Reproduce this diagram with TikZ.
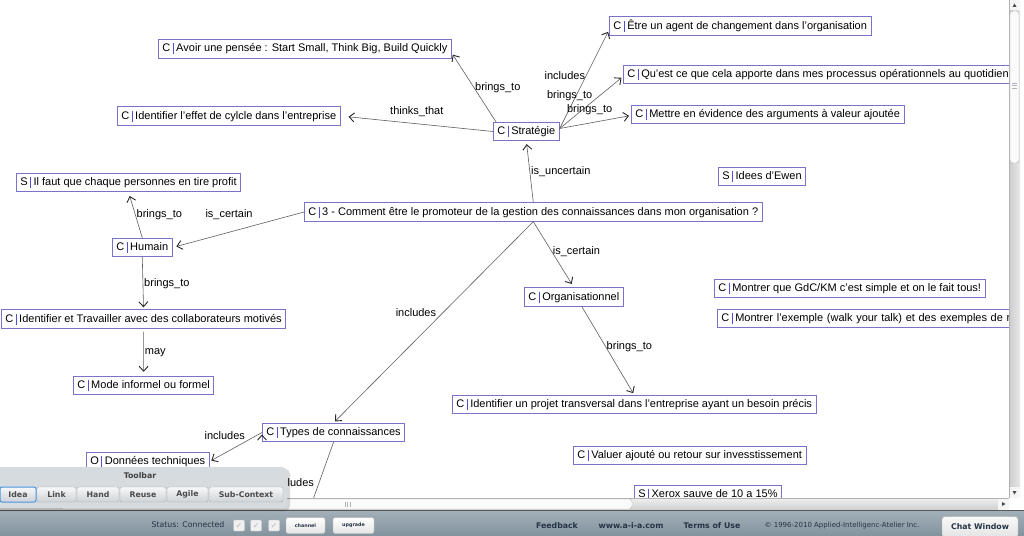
\documentclass[tikz,border=0pt]{standalone}
\usepackage{fontspec}
\setmainfont{Liberation Sans}
\newfontfamily\uifont{DejaVu Sans}
\usetikzlibrary{arrows.meta, positioning}

\definecolor{boxline}{RGB}{120,114,200}
\definecolor{sepline}{RGB}{80,80,215}
\definecolor{linkgray}{RGB}{95,95,95}
\definecolor{panelgray}{RGB}{214,219,224}
\definecolor{barlight}{RGB}{163,176,185}
\definecolor{bardark}{RGB}{132,148,158}
\definecolor{bartext}{RGB}{36,52,70}
\definecolor{ideablue}{RGB}{70,150,225}

\newcommand{\kind}[1]{#1\hspace{2.5pt}{\color{sepline}\vrule width 0.9pt height 8.5pt depth 2.5pt}\hspace{2.5pt}}
\newcommand{\diagfont}{\fontsize{11}{13}\selectfont}
\newcommand{\uibold}{\uifont\bfseries\fontsize{7.8}{9}\selectfont}
\newcommand{\uiplain}{\uifont\fontsize{7.8}{9}\selectfont}

\tikzset{
  concept/.style={draw=boxline, fill=white, line width=0.8pt, anchor=west,
    inner xsep=4pt, inner ysep=0pt, minimum height=18.5pt, font=\diagfont},
  link/.style={draw=linkgray, line width=0.6pt,
    -{Straight Barb[length=5pt,width=9pt,line width=0.9pt,color=black!85]}, shorten >=2pt},
  rel/.style={font=\diagfont, inner sep=1pt},
  tbbutton/.style={draw=gray!65, top color=white!80!panelgray,
    bottom color=panelgray!90!gray, rounded corners=2pt, minimum height=15pt,
    inner sep=0pt, font=\uibold, text=black!70},
  smallbtn/.style={draw=gray!60, top color=white, bottom color=gray!20,
    rounded corners=2pt, minimum height=16pt, inner sep=0pt,
    font=\uifont\bfseries\fontsize{4.8}{5}\selectfont, text=bartext},
  chk/.style={draw=gray!45, fill=gray!12, rounded corners=1pt, minimum size=11pt,
    inner sep=0pt, font=\uifont\fontsize{8}{8}\selectfont, text=gray!55},
  bartxt/.style={font=\uibold, text=bartext, inner sep=0pt},
}

\begin{document}
\begin{tikzpicture}[x=1pt, y=-1pt]
  \useasboundingbox (0,0) rectangle (1024,535);
  \fill[white] (0,0) rectangle (1024,535);

  \begin{scope}
    \clip (0,0) rectangle (1009,498);
    % concepts
    \node[concept] (avoir) at (158,49) {\kind{C}Avoir une pensée : Start Small, Think Big, Build Quickly};
    \node[concept] (cycle) at (117,116) {\kind{C}Identifier l'effet de cylcle dans l'entreprise};
    \node[concept] (strat) at (493,131.5) {\kind{C}Stratégie};
    \node[concept] (agent) at (609,26) {\kind{C}Être un agent de changement dans l'organisation};
    \node[concept] (apporte) at (623,74.5) {\kind{C}Qu'est ce que cela apporte dans mes processus opérationnels au quotidien};
    \node[concept] (mettre) at (631,114.5) {\kind{C}Mettre en évidence des arguments à valeur ajoutée};
    \node[concept] (profit) at (16,182.5) {\kind{S}Il faut que chaque personnes en tire profit};
    \node[concept] (humain) at (112,247.5) {\kind{C}Humain};
    \node[concept] (central) at (304,212) {\kind{C}3 - Comment être le promoteur de la gestion des connaissances dans mon organisation ?};
    \node[concept] (ewen) at (718,176.5) {\kind{S}Idees d'Ewen};
    \node[concept] (simple) at (714,288.5) {\kind{C}Montrer que GdC/KM c'est simple et on le fait tous!};
    \node[concept, text width=300pt, align=left] (exemple) at (717,318.5) {\kind{C}Montrer l'exemple (walk your talk) et des exemples de re};
    \node[concept] (organ) at (524,297) {\kind{C}Organisationnel};
    \node[concept] (collab) at (1,319) {\kind{C}Identifier et Travailler avec des collaborateurs motivés};
    \node[concept] (mode) at (73,385.5) {\kind{C}Mode informel ou formel};
    \node[concept] (projet) at (452,404.5) {\kind{C}Identifier un projet transversal dans l'entreprise ayant un besoin précis};
    \node[concept] (valeur) at (573,455.5) {\kind{C}Valuer ajouté ou retour sur invesstissement};
    \node[concept] (xerox) at (634,494.5) {\kind{S}Xerox sauve de 10 a 15\%};
    \node[concept] (types) at (262,432.5) {\kind{C}Types de connaissances};
    \node[concept] (donnees) at (86,461.5) {\kind{O}Données techniques};
    \coordinate (offscreen) at (305,522);

    \draw[link, nodes=rel]
    ([xshift=3pt]strat.north west) edge node[right] {brings\_to} ([yshift=-4pt]avoir.east)
    (strat.west) edge[shorten >=8pt] node[above=6pt] {thinks\_that} (cycle.east)
    ([yshift=3pt]strat.east) edge node[left, pos=0.54] {includes} ([yshift=-4pt]agent.west)
    ([yshift=3pt]strat.east) edge node[left=6pt, pos=0.63] {brings\_to} ([yshift=-2pt]apporte.west)
    ([yshift=3pt]strat.east) edge node[above=7pt, pos=0.42] {brings\_to} ([yshift=-1pt]mettre.west)
    (central.north) edge[shorten >=3pt] node[right] {is\_uncertain} (strat.south)
    (central.west) edge[shorten >=4pt] node[above=11pt, pos=0.57] {is\_certain} (humain.east)
    (humain.north) edge[shorten >=4pt] node[right] {brings\_to} (profit.south)
    (humain.south) edge node[right] {brings\_to} (collab.north)
    (collab.south) edge[shorten <=3pt, shorten >=4pt] node[right] {may} (mode.north)
    (central.south) edge[shorten >=4pt] node[right, pos=0.45] {is\_certain} (organ.north)
    ([xshift=8pt]organ.south) edge node[right, pos=0.45] {brings\_to} (projet.north)
    (central.south) edge node[left=6pt, pos=0.45] {includes} (types.north)
    (types.west) edge node[above left, pos=0.3] {includes} (donnees.east)
    ;
    \draw[link] (types.south) -- node[rel, left=4pt] {includes} (offscreen);
  \end{scope}

  % scrollbars
  \shade[left color=gray!40, right color=gray!18] (1009,0) rectangle (1020,498);
  \draw[gray!60] (1009,0) -- (1009,498);
  \fill[white!92!gray] (1009.5,0) rectangle (1020,10);
  \fill[black!70] (1012.5,7) -- (1016.5,7) -- (1014.5,3.5) -- cycle;
  \draw[gray!55, fill=white!96!gray, rounded corners=3pt] (1010,11) rectangle (1019,163);
  \draw[gray!60] (1012,83) -- (1017,83) (1012,85.5) -- (1017,85.5) (1012,88) -- (1017,88);
  \fill[white!92!gray] (1009.5,487) rectangle (1020,498);
  \fill[black!70] (1012.5,491) -- (1016.5,491) -- (1014.5,494.5) -- cycle;
  \shade[top color=gray!12, bottom color=gray!38] (0,498) rectangle (1009,510);
  \draw[gray!60] (0,498) -- (1009,498);
  \draw[gray!55, fill=white!97!gray, rounded corners=3pt] (60,499) rectangle (632,509);
  \draw[gray!60] (345,501.5) -- (345,506.5) (347.5,501.5) -- (347.5,506.5) (350,501.5) -- (350,506.5);
  \fill[white!92!gray] (998,498.5) rectangle (1009,510);
  \fill[black!70] (1002,502) -- (1002,506) -- (1005.5,504) -- cycle;
  \fill[white] (1009,498) rectangle (1024,510);

  % status bar
  \shade[top color=barlight, bottom color=bardark] (0,510) rectangle (1024,535);
  \draw[gray!70!black] (0,510) -- (1024,510);
  \node[font=\uiplain, text=bartext, inner sep=0pt] (status) at (188,525) {Status: Connected};
  \node[chk] (chk1) at (239,525.5) {✓};
  \node[chk] (chk2) at (256,525.5) {✓};
  \node[chk] (chk3) at (274,525.5) {✓};
  \node[smallbtn, minimum width=39pt] (channel) at (305.5,525.5) {channel};
  \node[smallbtn, minimum width=41pt] (upgrade) at (353.5,525.5) {upgrade};
  \node[bartxt] (feedback) at (557,526) {Feedback};
  \node[bartxt] (site) at (631,526) {www.a-i-a.com};
  \node[bartxt] (terms) at (712,526) {Terms of Use};
  \node[font=\uifont\fontsize{7}{8}\selectfont, text=bartext, inner sep=0pt] (copy) at (842,526) {© 1996-2010 Applied-Intelligenc-Atelier Inc.};
  \node[draw=gray!60, top color=white!95!gray, bottom color=gray!22, rounded corners=3pt,
    minimum width=76pt, minimum height=21pt, font=\uibold, text=bartext] (chat) at (980,527) {Chat Window};

  % toolbar
  \fill[black, opacity=0.15, rounded corners=5pt] (-5,469) rectangle (290,511);
  \fill[panelgray, rounded corners=5pt] (-5,467) rectangle (287,508);
  \node[font=\uibold, text=black!75] (tbtitle) at (140,476) {Toolbar};
  \node[tbbutton, minimum width=36pt, draw=ideablue, line width=1pt] (idea) at (18,494.5) {Idea};
  \node[tbbutton, minimum width=39pt] (link) at (56.5,494.5) {Link};
  \node[tbbutton, minimum width=42pt] (hand) at (98,494.5) {Hand};
  \node[tbbutton, minimum width=46pt] (reuse) at (143,494.5) {Reuse};
  \node[tbbutton, minimum width=41pt] (agile) at (187.5,494.5) {Agile};
  \node[tbbutton, minimum width=74pt] (subctx) at (246,494.5) {Sub-Context};
\end{tikzpicture}
\end{document}
